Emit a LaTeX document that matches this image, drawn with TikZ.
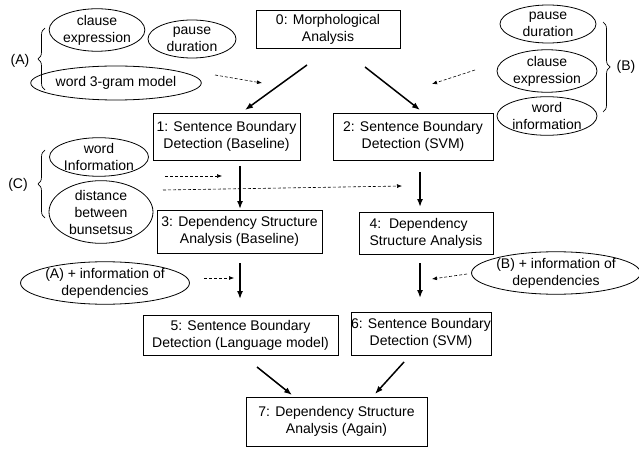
\documentclass[tikz,border=0pt]{standalone}
\usepackage{fontspec}
\setmainfont{Liberation Sans}
\usetikzlibrary{shapes.geometric,decorations.pathreplacing,arrows.meta}
\begin{document}
\begin{tikzpicture}[x=1pt,y=-1pt,
 txt/.style={font=\fontsize{14}{17}\selectfont},
 box/.style={txt, draw, line width=0.8pt, inner sep=0pt, align=center},
 oval/.style={txt, draw, ellipse, line width=0.8pt, inner sep=0pt, align=center},
 main/.style={-{Latex[length=8pt,width=6pt]}, line width=1.5pt},
 aux/.style={-{Latex[length=5pt,width=4pt]}, line width=0.6pt, dash pattern=on 3pt off 2pt},
 brc/.style={decorate, decoration={brace, amplitude=7pt}, line width=0.7pt}]
\useasboundingbox (0,0) rectangle (639,449);
\fill[white] (0,0) rectangle (639,449);

% boxes
\node[box, minimum width=144pt, minimum height=38pt] (b0) at (328,29) {0: Morphological\\Analysis};
\node[box, minimum width=147pt, minimum height=47pt] (b1) at (226.5,136.5) {1: Sentence Boundary\\Detection (Baseline)};
\node[box, minimum width=160pt, minimum height=47pt] (b2) at (413,136.5) {2: Sentence Boundary\\Detection (SVM)};
\node[box, minimum width=165pt, minimum height=43pt] (b3) at (239.5,231.5) {3: Dependency Structure\\Analysis (Baseline)};
\node[box, minimum width=134pt, minimum height=42pt, align=left] (b4) at (426,233) {4:\ \ Dependency\\Structure Analysis};
\node[box, minimum width=195pt, minimum height=40pt] (b5) at (240.5,335) {5: Sentence Boundary\\Detection (Language model)};
\node[box, minimum width=138pt, minimum height=43pt] (b6) at (421,333.5) {6: Sentence Boundary\\Detection (SVM)};
\node[box, minimum width=181pt, minimum height=49pt] (b7) at (336.5,421.5) {7: Dependency Structure\\Analysis (Again)};

% ellipses
\node[oval, minimum width=94pt, minimum height=42pt] (eA1) at (97,30) {clause\\expression};
\node[oval, minimum width=88pt, minimum height=38pt] (eA2) at (192,39) {pause\\duration};
\node[oval, minimum width=142pt, minimum height=34pt] (eA3) at (116,83) {word 3-gram model};
\node[oval, minimum width=96pt, minimum height=38pt] (eB1) at (548,24) {pause\\duration};
\node[oval, minimum width=100pt, minimum height=42pt] (eB2) at (547,71) {clause\\expression};
\node[oval, minimum width=100pt, minimum height=38pt] (eB3) at (547,116) {word\\information};
\node[oval, minimum width=88pt, minimum height=30pt] (eC1) at (99,157) {word\\Information};
\node[oval, minimum width=104pt, minimum height=54pt] (eC2) at (101,212) {distance\\between\\bunsetsus};
\node[oval, minimum width=160pt, minimum height=42pt] (eA4) at (105,283) {(A) + information of\\dependencies};
\node[oval, minimum width=158pt, minimum height=38pt] (eB4) at (556,273) {(B) + information of\\dependencies};

% labels
\node[txt] (lA) at (20,61) {(A)};
\node[txt] (lB) at (626,67) {(B)};
\node[txt] (lC) at (18,185) {(C)};

% braces
\coordinate (brA1) at (45,90); \coordinate (brA2) at (45,28);
\coordinate (brB1) at (603,22); \coordinate (brB2) at (603,112);
\coordinate (brC1) at (45,218); \coordinate (brC2) at (45,150);
\draw[brc] (brA1) -- (brA2);
\draw[brc] (brB1) -- (brB2);
\draw[brc] (brC1) -- (brC2);

% solid arrow end points
\coordinate (s01a) at (307,65);  \coordinate (s01b) at (245,110);
\coordinate (s02a) at (365,67);  \coordinate (s02b) at (420,110);
\coordinate (s13a) at (240,166); \coordinate (s13b) at (240,209);
\coordinate (s24a) at (420,172); \coordinate (s24b) at (420,207);
\coordinate (s35a) at (240,263); \coordinate (s35b) at (240,299);
\coordinate (s46a) at (420,263); \coordinate (s46b) at (420,298);
\coordinate (s57a) at (257,367); \coordinate (s57b) at (292,395);
\coordinate (s67a) at (404,362); \coordinate (s67b) at (375,394);
\draw[main] (s01a) -- (s01b);
\draw[main] (s02a) -- (s02b);
\draw[main] (s13a) -- (s13b);
\draw[main] (s24a) -- (s24b);
\draw[main] (s35a) -- (s35b);
\draw[main] (s46a) -- (s46b);
\draw[main] (s57a) -- (s57b);
\draw[main] (s67a) -- (s67b);

% dashed arrows
\coordinate (dAa) at (215,75);  \coordinate (dAb) at (262,83);
\coordinate (dBa) at (475,70);  \coordinate (dBb) at (432,84);
\coordinate (dC1a) at (165,176); \coordinate (dC1b) at (222,176);
\coordinate (dC2a) at (163,190); \coordinate (dC2b) at (402,186);
\coordinate (dA4a) at (204,278); \coordinate (dA4b) at (234,278);
\coordinate (dB4a) at (467,274); \coordinate (dB4b) at (432,279);
\draw[aux] (dAa) -- (dAb);
\draw[aux] (dBa) -- (dBb);
\draw[aux] (dC1a) -- (dC1b);
\draw[aux] (dC2a) -- (dC2b);
\draw[aux] (dA4a) -- (dA4b);
\draw[aux] (dB4a) -- (dB4b);
\end{tikzpicture}
\end{document}
